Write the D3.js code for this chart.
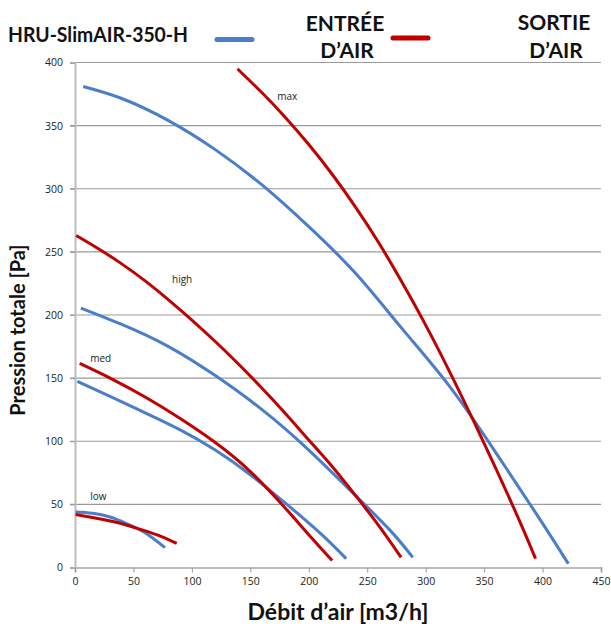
<!DOCTYPE html>
<html><head><meta charset="utf-8">
<script src="https://cdn.jsdelivr.net/npm/d3@7"></script>
<style>body{margin:0;background:#fff}svg{display:block}</style>
</head><body><svg id="c" width="611" height="632"></svg>
<script>
const xTicks = [0,50,100,150,200,250,300,350,400,450];
const yTicks = [0,50,100,150,200,250,300,350,400];
const speeds = ["max","high","med","low"];
// Entrée d'air (blue)
const inMaxX  = [7,40,80,120,160,200,240,280,320,360,400,422];
const inMaxY  = [381,371.5,354,331,303,270,233,189,144,91,35,3];
const inHighX = [5,40,80,120,160,200,240,270,289];
const inHighY = [205.5,192.5,175,152,125,93,57,29,8];
const inMedX  = [2,30,60,90,120,150,180,210,232];
const inMedY  = [147.5,135.5,122.5,109,93,73.5,51,27,7];
const inLowX  = [0.5,15,30,45,60,77];
const inLowY  = [44,43,40,34.5,27.5,15.7];
// Sortie d'air (red)
const outMaxX  = [139,160,180,200,220,240,260,280,300,320,340,360,380,394];
const outMaxY  = [395,376,356.5,335,311.5,285.5,257,225.5,192,156,118,78.5,37.5,7];
const outHighX = [1,20,40,60,80,100,120,140,160,180,200,220,240,260,279];
const outHighY = [263,252.5,240.5,227,212,196,179,161,142,122,101,80,57,33,8];
const outMedX  = [4,30,60,90,120,150,180,200,220];
const outMedY  = [161.6,150,135,118,99,76,47,26,5.5];
const outLowX  = [0.5,16,36,56,73,87];
const outLowY  = [42,39.4,35.7,30.2,24.9,19.1];

const labelX = [173,83,13,13];
const labelY = [370,225,163,53.5];

const svg = d3.select("#c");
const m = {l:75, r:601, t:62.5, b:567.5};
const x = d3.scaleLinear().domain([0,450]).range([m.l,m.r]);
const y = d3.scaleLinear().domain([0,400]).range([m.b,m.t]);
const font = "Lato, 'Open Sans', sans-serif";

// gridlines
svg.append("g").selectAll("line").data(yTicks.filter(d=>d>0)).join("line")
  .attr("x1",m.l-5).attr("x2",m.r).attr("y1",d=>y(d)).attr("y2",d=>y(d))
  .attr("stroke","#9a9a9a").attr("stroke-width",1.2);

// y axis
const ya = svg.append("g").attr("transform",`translate(${m.l},0)`)
  .call(d3.axisLeft(y).tickValues(yTicks).tickSize(5).tickPadding(7));
ya.select(".domain").attr("stroke","#bdbdbd").attr("stroke-width",2);
ya.selectAll(".tick line").attr("stroke","#9a9a9a");
ya.selectAll("text").attr("font-family","'Open Sans', sans-serif").attr("font-size",10.5).attr("fill","#222");

// x axis
const xa = svg.append("g").attr("transform",`translate(0,${m.b})`)
  .call(d3.axisBottom(x).tickValues(xTicks).tickSize(5).tickPadding(5));
xa.select(".domain").attr("stroke","#bdbdbd").attr("stroke-width",2);
xa.selectAll(".tick line").attr("stroke","#9a9a9a");
xa.selectAll("text").attr("font-family","'Open Sans', sans-serif").attr("font-size",10.5).attr("fill","#222");

const line = d3.line().x(d=>x(d[0])).y(d=>y(d[1])).curve(d3.curveNatural);
const zip = (a,b)=>a.map((v,i)=>[v,b[i]]);
const blue = "#4a7dca", red = "#c00000";
const series = [
  [inMaxX,inMaxY,blue],[inHighX,inHighY,blue],[inMedX,inMedY,blue],[inLowX,inLowY,blue],
  [outMaxX,outMaxY,red],[outHighX,outHighY,red],[outMedX,outMedY,red],[outLowX,outLowY,red]
];
svg.append("g").selectAll("path").data(series).join("path")
  .attr("d",d=>line(zip(d[0],d[1]))).attr("fill","none")
  .attr("stroke",d=>d[2]).attr("stroke-width",3).attr("stroke-linejoin","round");

// speed labels
svg.append("g").selectAll("text").data(speeds).join("text")
  .attr("x",(d,i)=>x(labelX[i])).attr("y",(d,i)=>y(labelY[i]))
  .attr("font-family","'Open Sans', sans-serif").attr("font-size",10).attr("fill","#222")
  .text(d=>d);

// title & legend
svg.append("text").attr("x",8).attr("y",42).attr("font-family",font).attr("font-weight","bold")
  .attr("font-size",21).attr("fill","#111").attr("textLength",180).attr("lengthAdjust","spacingAndGlyphs")
  .text("HRU-SlimAIR-350-H");
svg.append("line").attr("x1",217).attr("x2",252).attr("y1",39.5).attr("y2",39.5)
  .attr("stroke",blue).attr("stroke-width",5).attr("stroke-linecap","round");
svg.append("line").attr("x1",393).attr("x2",428).attr("y1",38).attr("y2",38)
  .attr("stroke",red).attr("stroke-width",5).attr("stroke-linecap","round");
const lg = [["ENTRÉE",345,31],["D’AIR",347,58],["SORTIE",554,30],["D’AIR",556,58]];
svg.append("g").selectAll("text").data(lg).join("text")
  .attr("x",d=>d[1]).attr("y",d=>d[2]).attr("text-anchor","middle")
  .attr("font-family",font).attr("font-weight","bold").attr("font-size",21).attr("fill","#111")
  .text(d=>d[0]);

// axis titles
svg.append("text").attr("transform","translate(25,330) rotate(-90)").attr("text-anchor","middle")
  .attr("font-family",font).attr("font-weight","bold").attr("font-size",20).attr("fill","#111")
  .text("Pression totale [Pa]");
svg.append("text").attr("x",338).attr("y",620).attr("text-anchor","middle")
  .attr("font-family",font).attr("font-weight","bold").attr("font-size",23).attr("fill","#111")
  .text("Débit d’air [m3/h]");
</script></body></html>
